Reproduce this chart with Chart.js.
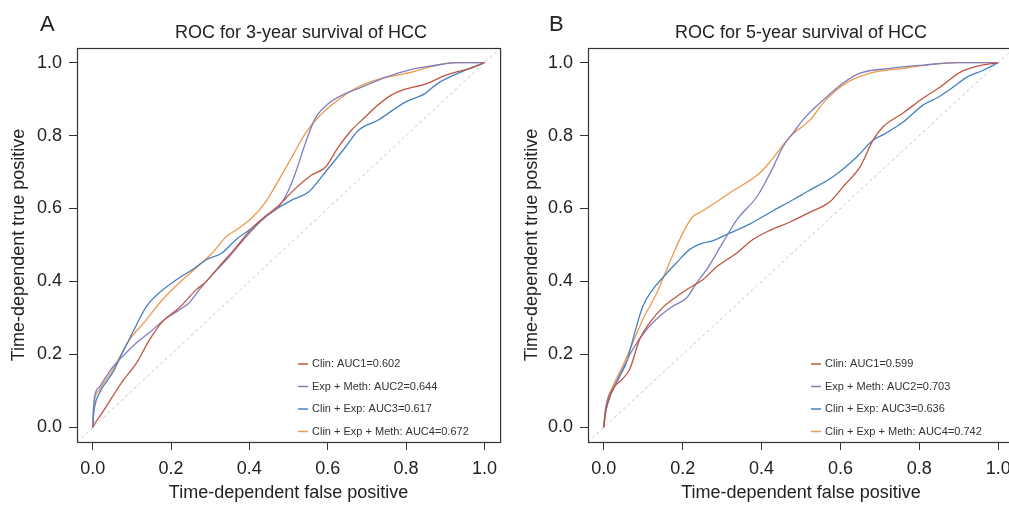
<!DOCTYPE html>
<html>
<head>
<meta charset="utf-8">
<script src="https://cdn.jsdelivr.net/npm/chart.js@4.4.1/dist/chart.umd.min.js"></script>
<style>
  body { margin: 0; width: 1009px; height: 505px; overflow: hidden; background: #fff; position: relative; }
  canvas { position: absolute; top: 0; }
  #chartA { left: 0; }
  #chartB { left: 505px; }
</style>
</head>
<body>
<canvas id="chartA" width="505" height="505"></canvas>
<canvas id="chartB" width="520" height="505"></canvas>
<script>
// tick labels on both axes
const axisTicks = [0, 0.2, 0.4, 0.6, 0.8, 1.0];

const seriesNames = ['Clin', 'Exp + Meth', 'Clin + Exp', 'Clin + Exp + Meth'];
const seriesColors = ['#C0563F', '#7E7EC0', '#4682C0', '#EE9A4D'];
const aucA = ['0.602', '0.644', '0.617', '0.672'];
const aucB = ['0.599', '0.703', '0.636', '0.742'];

// Panel A: 3-year ROC
const aClinX = [0, 0.005, 0.018, 0.051, 0.076, 0.112, 0.145, 0.178, 0.221, 0.264, 0.289, 0.322, 0.365, 0.406, 0.442, 0.475, 0.508, 0.558, 0.594, 0.627, 0.66, 0.695, 0.721, 0.761, 0.787, 0.855, 0.898, 0.931, 0.964, 1];
const aClinY = [0, 0.01, 0.03, 0.085, 0.126, 0.177, 0.24, 0.29, 0.328, 0.377, 0.399, 0.44, 0.492, 0.545, 0.58, 0.608, 0.645, 0.691, 0.713, 0.768, 0.814, 0.85, 0.877, 0.91, 0.923, 0.943, 0.964, 0.975, 0.984, 1];
const aExpMethX = [0, 0.002, 0.005, 0.018, 0.05, 0.076, 0.112, 0.145, 0.183, 0.221, 0.246, 0.272, 0.305, 0.348, 0.391, 0.442, 0.475, 0.5, 0.52, 0.543, 0.568, 0.602, 0.645, 0.685, 0.746, 0.812, 0.873, 0.931, 1];
const aExpMethY = [0, 0.05, 0.085, 0.112, 0.164, 0.194, 0.232, 0.26, 0.295, 0.322, 0.341, 0.377, 0.418, 0.467, 0.522, 0.578, 0.605, 0.65, 0.705, 0.779, 0.847, 0.888, 0.915, 0.932, 0.959, 0.981, 0.992, 1, 1];
const aClinExpX = [0, 0.002, 0.005, 0.018, 0.051, 0.076, 0.102, 0.137, 0.17, 0.213, 0.254, 0.289, 0.33, 0.365, 0.406, 0.457, 0.508, 0.551, 0.594, 0.645, 0.678, 0.728, 0.797, 0.848, 0.881, 0.931, 1];
const aClinExpY = [0, 0.03, 0.057, 0.096, 0.15, 0.205, 0.26, 0.331, 0.369, 0.404, 0.432, 0.459, 0.478, 0.514, 0.546, 0.59, 0.623, 0.645, 0.7, 0.768, 0.814, 0.842, 0.891, 0.915, 0.943, 0.97, 1];
const aAllX = [0, 0.002, 0.005, 0.018, 0.051, 0.094, 0.137, 0.178, 0.221, 0.264, 0.305, 0.34, 0.373, 0.406, 0.441, 0.475, 0.508, 0.543, 0.576, 0.619, 0.67, 0.728, 0.812, 0.863, 0.924, 1];
const aAllY = [0, 0.05, 0.077, 0.104, 0.158, 0.24, 0.295, 0.35, 0.396, 0.437, 0.478, 0.522, 0.546, 0.574, 0.617, 0.678, 0.74, 0.806, 0.85, 0.891, 0.929, 0.954, 0.973, 0.989, 1, 1];

// Panel B: 5-year ROC
const bClinX = [0, 0.003, 0.008, 0.023, 0.048, 0.066, 0.091, 0.117, 0.15, 0.185, 0.218, 0.251, 0.287, 0.338, 0.378, 0.421, 0.472, 0.523, 0.574, 0.607, 0.65, 0.683, 0.708, 0.759, 0.81, 0.853, 0.904, 0.947, 1];
const bClinY = [0, 0.03, 0.059, 0.105, 0.133, 0.16, 0.242, 0.288, 0.329, 0.359, 0.383, 0.405, 0.441, 0.479, 0.515, 0.54, 0.563, 0.59, 0.619, 0.66, 0.715, 0.788, 0.824, 0.862, 0.903, 0.933, 0.974, 0.99, 1];
const bExpMethX = [0, 0.003, 0.008, 0.023, 0.048, 0.074, 0.109, 0.142, 0.175, 0.211, 0.236, 0.261, 0.302, 0.338, 0.39, 0.426, 0.454, 0.48, 0.505, 0.556, 0.607, 0.65, 0.726, 0.81, 0.896, 1];
const bExpMethY = [0, 0.04, 0.07, 0.105, 0.16, 0.215, 0.269, 0.305, 0.332, 0.356, 0.397, 0.433, 0.507, 0.57, 0.635, 0.706, 0.769, 0.807, 0.843, 0.897, 0.944, 0.971, 0.984, 0.993, 1, 1];
const bClinExpX = [0, 0.003, 0.008, 0.041, 0.058, 0.074, 0.099, 0.124, 0.15, 0.185, 0.218, 0.251, 0.269, 0.32, 0.371, 0.429, 0.48, 0.515, 0.581, 0.642, 0.683, 0.708, 0.759, 0.81, 0.845, 0.886, 0.921, 0.962, 1];
const bClinExpY = [0, 0.03, 0.059, 0.141, 0.179, 0.242, 0.332, 0.378, 0.411, 0.452, 0.488, 0.505, 0.509, 0.533, 0.558, 0.594, 0.624, 0.646, 0.687, 0.742, 0.788, 0.802, 0.837, 0.884, 0.903, 0.933, 0.96, 0.979, 1];
const bAllX = [0, 0.003, 0.008, 0.023, 0.048, 0.074, 0.099, 0.135, 0.168, 0.201, 0.226, 0.244, 0.294, 0.32, 0.396, 0.426, 0.472, 0.523, 0.556, 0.607, 0.675, 0.759, 0.853, 0.896, 1];
const bAllY = [0, 0.03, 0.07, 0.113, 0.168, 0.233, 0.296, 0.37, 0.455, 0.534, 0.578, 0.589, 0.624, 0.643, 0.698, 0.734, 0.797, 0.843, 0.889, 0.939, 0.971, 0.984, 0.998, 1, 1];

const refLine = [-0.04, 1.04];

const FONT = '"Liberation Sans", Arial, Helvetica, sans-serif';
const TEXT = '#222';

function toPoints(xs, ys) {
  return xs.map((x, i) => ({ x: x, y: ys[i] }));
}

// box around the plot region (R style)
const framePlugin = {
  id: 'frame',
  afterDatasetsDraw(chart) {
    const a = chart.chartArea, ctx = chart.ctx;
    ctx.save();
    ctx.strokeStyle = '#333';
    ctx.lineWidth = 1.2;
    ctx.strokeRect(a.left + 0.5, a.top + 0.5, a.right - a.left, a.bottom - a.top);
    ctx.restore();
  }
};

function makeChart(id, p) {
  const curves = [[p.clinX, p.clinY], [p.emX, p.emY], [p.ceX, p.ceY], [p.allX, p.allY]];
  const datasets = [{
    label: 'ref',
    data: toPoints(refLine, refLine),
    borderColor: '#c4c4c4',
    borderWidth: 1,
    borderDash: [3, 3],
    pointRadius: 0,
    showLine: true
  }];
  curves.forEach((c, i) => {
    datasets.push({
      label: seriesNames[i] + ': AUC' + (i + 1) + '=' + p.auc[i],
      data: toPoints(c[0], c[1]),
      borderColor: seriesColors[i],
      borderWidth: 1.3,
      pointRadius: 0,
      showLine: true,
      cubicInterpolationMode: 'monotone'
    });
  });

  const decor = {
    id: 'decor',
    afterDraw(chart) {
      const ctx = chart.ctx, a = chart.chartArea;
      ctx.save();
      ctx.fillStyle = TEXT;
      ctx.textBaseline = 'middle';
      ctx.textAlign = 'left';
      ctx.font = '22px ' + FONT;
      ctx.fillText(p.letter, p.letterX, 25);
      ctx.textAlign = 'center';
      ctx.font = '18px ' + FONT;
      ctx.fillText(p.title, p.titleX, 33);
      // legend inside plot, bottom right
      ctx.font = '11px ' + FONT;
      ctx.textAlign = 'left';
      chart.data.datasets.slice(1).forEach((ds, i) => {
        const y = a.bottom - 10.5 - (3 - i) * 22.5;
        const x0 = a.left + p.legendX;
        ctx.strokeStyle = ds.borderColor;
        ctx.lineWidth = 1.5;
        ctx.beginPath();
        ctx.moveTo(x0, y);
        ctx.lineTo(x0 + 10, y);
        ctx.stroke();
        ctx.fillStyle = '#333';
        ctx.fillText(ds.label, x0 + 14, y);
      });
      ctx.restore();
    }
  };

  const tickOpts = {
    color: TEXT,
    font: { family: FONT, size: 18 },
    autoSkip: false,
    maxRotation: 0,
    callback: v => Number(v).toFixed(1)
  };
  const gridOpts = { drawOnChartArea: false, drawTicks: true, tickLength: 8, color: '#333', lineWidth: 1 };

  return new Chart(document.getElementById(id), {
    type: 'scatter',
    data: { datasets },
    options: {
      responsive: false,
      animation: false,
      devicePixelRatio: 1,
      layout: { padding: { left: 0, top: 48, right: p.padRight, bottom: 0 } },
      plugins: { legend: { display: false }, tooltip: { enabled: false }, title: { display: false } },
      scales: {
        x: {
          type: 'linear', min: -0.04, max: 1.04,
          afterBuildTicks: s => { s.ticks = axisTicks.map(v => ({ value: v })); },
          afterFit: s => { s.height = 63; },
          grid: gridOpts,
          border: { display: false },
          ticks: Object.assign({}, tickOpts, { padding: 8 }),
          title: { display: true, text: 'Time-dependent false positive', color: TEXT,
                   font: { family: FONT, size: 18 }, padding: { top: 0, bottom: 1 } }
        },
        y: {
          type: 'linear', min: -0.04, max: 1.04,
          afterBuildTicks: s => { s.ticks = axisTicks.map(v => ({ value: v })); },
          afterFit: s => { s.width = p.yWidth; },
          grid: gridOpts,
          border: { display: false },
          ticks: Object.assign({}, tickOpts, { padding: 7 }),
          title: { display: true, text: 'Time-dependent true positive', color: TEXT,
                   font: { family: FONT, size: 18 }, padding: { top: p.yTitlePad, bottom: 0 } }
        }
      }
    },
    plugins: [framePlugin, decor]
  });
}

makeChart('chartA', {
  letter: 'A', letterX: 40, title: 'ROC for 3-year survival of HCC', titleX: 301,
  auc: aucA, legendX: 221, yWidth: 77, yTitlePad: 8, padRight: 2,
  clinX: aClinX, clinY: aClinY, emX: aExpMethX, emY: aExpMethY,
  ceX: aClinExpX, ceY: aClinExpY, allX: aAllX, allY: aAllY
});

makeChart('chartB', {
  letter: 'B', letterX: 44, title: 'ROC for 5-year survival of HCC', titleX: 296,
  auc: aucB, legendX: 223, yWidth: 83, yTitlePad: 16, padRight: 11,
  clinX: bClinX, clinY: bClinY, emX: bExpMethX, emY: bExpMethY,
  ceX: bClinExpX, ceY: bClinExpY, allX: bAllX, allY: bAllY
});
</script>
</body>
</html>
